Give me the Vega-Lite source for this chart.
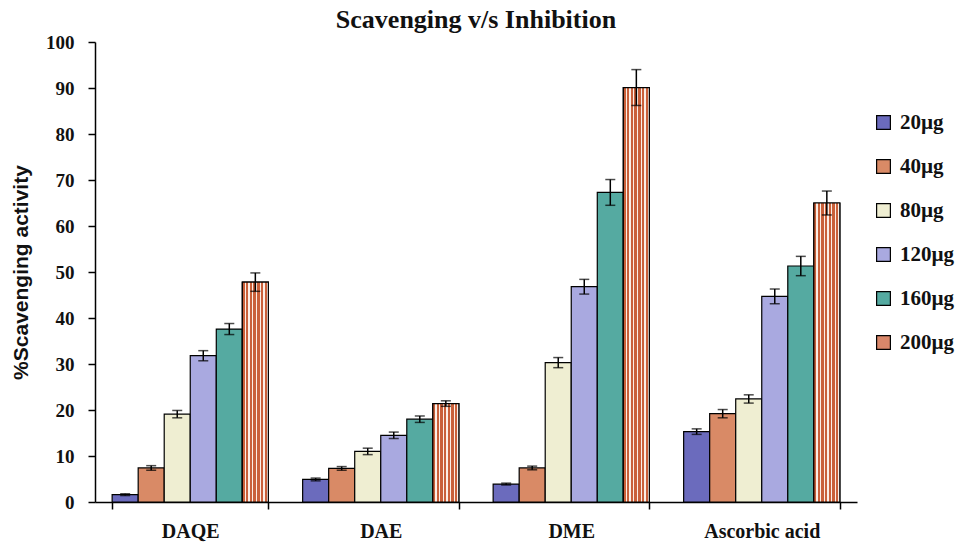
{
  "$schema": "https://vega.github.io/schema/vega-lite/v6.json",
  "width": 762,
  "height": 460,
  "autosize": "none",
  "padding": {"left": 95, "top": 42, "right": 102, "bottom": 40},
  "background": "white",
  "title": {"text": "Scavenging v/s Inhibition", "font": "Liberation Serif", "fontSize": 26, "fontWeight": "bold", "anchor": "middle", "offset": 0, "color": "#111111"},
  "data": {"values": [
    {"extract": "DAQE", "dose": "20µg", "value": 1.6, "lo": 1.4, "hi": 1.8},
    {"extract": "DAQE", "dose": "40µg", "value": 7.4, "lo": 6.9, "hi": 7.9},
    {"extract": "DAQE", "dose": "80µg", "value": 19.1, "lo": 18.3, "hi": 19.9},
    {"extract": "DAQE", "dose": "120µg", "value": 31.8, "lo": 30.7, "hi": 32.9},
    {"extract": "DAQE", "dose": "160µg", "value": 37.6, "lo": 36.4, "hi": 38.8},
    {"extract": "DAQE", "dose": "200µg", "value": 47.8, "lo": 45.8, "hi": 49.8},
    {"extract": "DAE", "dose": "20µg", "value": 4.9, "lo": 4.6, "hi": 5.2},
    {"extract": "DAE", "dose": "40µg", "value": 7.3, "lo": 6.9, "hi": 7.7},
    {"extract": "DAE", "dose": "80µg", "value": 11.0, "lo": 10.3, "hi": 11.7},
    {"extract": "DAE", "dose": "120µg", "value": 14.5, "lo": 13.8, "hi": 15.2},
    {"extract": "DAE", "dose": "160µg", "value": 18.0, "lo": 17.3, "hi": 18.7},
    {"extract": "DAE", "dose": "200µg", "value": 21.4, "lo": 20.8, "hi": 22.0},
    {"extract": "DME", "dose": "20µg", "value": 3.9, "lo": 3.7, "hi": 4.1},
    {"extract": "DME", "dose": "40µg", "value": 7.4, "lo": 7.0, "hi": 7.8},
    {"extract": "DME", "dose": "80µg", "value": 30.3, "lo": 29.2, "hi": 31.4},
    {"extract": "DME", "dose": "120µg", "value": 46.8, "lo": 45.2, "hi": 48.4},
    {"extract": "DME", "dose": "160µg", "value": 67.3, "lo": 64.5, "hi": 70.1},
    {"extract": "DME", "dose": "200µg", "value": 90.1, "lo": 86.2, "hi": 94.0},
    {"extract": "Ascorbic acid", "dose": "20µg", "value": 15.3, "lo": 14.7, "hi": 15.9},
    {"extract": "Ascorbic acid", "dose": "40µg", "value": 19.2, "lo": 18.3, "hi": 20.1},
    {"extract": "Ascorbic acid", "dose": "80µg", "value": 22.4, "lo": 21.5, "hi": 23.3},
    {"extract": "Ascorbic acid", "dose": "120µg", "value": 44.7, "lo": 43.1, "hi": 46.3},
    {"extract": "Ascorbic acid", "dose": "160µg", "value": 51.3, "lo": 49.2, "hi": 53.4},
    {"extract": "Ascorbic acid", "dose": "200µg", "value": 65.0, "lo": 62.4, "hi": 67.6}
  ]},
  "encoding": {
    "x": {
      "field": "extract", "type": "nominal",
      "sort": ["DAQE", "DAE", "DME", "Ascorbic acid"],
      "scale": {"paddingInner": 0.18, "paddingOuter": 0.09},
      "axis": {
        "title": null, "labelAngle": 0, "labelFont": "Liberation Serif", "labelFontSize": 20, "labelFontWeight": "bold", "labelColor": "#111111",
        "labelPadding": 12, "tickBand": "extent", "ticks": true, "tickSize": 7, "tickColor": "#000000", "tickWidth": 1.5,
        "domainColor": "#000000", "domainWidth": 1.5, "grid": false
      }
    },
    "xOffset": {"field": "dose", "type": "nominal", "sort": ["20µg", "40µg", "80µg", "120µg", "160µg", "200µg"], "scale": {"domain": ["20µg", "40µg", "80µg", "120µg", "160µg", "200µg"]}}
  },
  "layer": [
    {
      "mark": {"type": "bar", "stroke": "#000000", "strokeWidth": 1.2},
      "encoding": {
        "y": {
          "field": "value", "type": "quantitative",
          "scale": {"domain": [0, 100], "nice": false},
          "axis": {
            "title": "%Scavenging activity", "titleFont": "Liberation Sans", "titleFontSize": 21, "titleFontWeight": "bold", "titleColor": "#111111", "titlePadding": 14,
            "values": [0, 10, 20, 30, 40, 50, 60, 70, 80, 90, 100],
            "labelFont": "Liberation Serif", "labelFontSize": 19, "labelFontWeight": "bold", "labelColor": "#111111", "labelPadding": 14,
            "tickSize": 7, "tickColor": "#000000", "tickWidth": 1.5, "domainColor": "#000000", "domainWidth": 1.5, "grid": false
          }
        },
        "color": {
          "field": "dose", "type": "nominal",
          "sort": ["20µg", "40µg", "80µg", "120µg", "160µg", "200µg"],
          "scale": {"domain": ["20µg", "40µg", "80µg", "120µg", "160µg", "200µg"], "range": ["#6b6bbd", "#d98a66", "#efeed2", "#a9a9e0", "#55aaa1", "#d9876a"]},
          "legend": {
            "title": null, "orient": "none", "legendX": 778, "legendY": 70,
            "symbolType": "square", "symbolSize": 190, "symbolStrokeColor": "#000000", "symbolStrokeWidth": 1.2,
            "labelFont": "Liberation Serif", "labelFontSize": 21, "labelFontWeight": "bold", "labelColor": "#111111", "labelOffset": 6,
            "rowPadding": 22
          }
        }
      }
    },
    {
      "transform": [{"filter": "datum.dose === '200µg'"}],
      "mark": {
        "type": "bar", "stroke": "#000000", "strokeWidth": 1.2,
        "fill": {"gradient": "linear", "x1": 0, "y1": 0, "x2": 1, "y2": 0, "stops": [
          {"offset": 0, "color": "#c9603a"}, {"offset": 0.0886, "color": "#c9603a"}, {"offset": 0.0886, "color": "#fbeee6"}, {"offset": 0.1429, "color": "#fbeee6"},
          {"offset": 0.1429, "color": "#c9603a"}, {"offset": 0.2314, "color": "#c9603a"}, {"offset": 0.2314, "color": "#fbeee6"}, {"offset": 0.2857, "color": "#fbeee6"},
          {"offset": 0.2857, "color": "#c9603a"}, {"offset": 0.3743, "color": "#c9603a"}, {"offset": 0.3743, "color": "#fbeee6"}, {"offset": 0.4286, "color": "#fbeee6"},
          {"offset": 0.4286, "color": "#c9603a"}, {"offset": 0.5171, "color": "#c9603a"}, {"offset": 0.5171, "color": "#fbeee6"}, {"offset": 0.5714, "color": "#fbeee6"},
          {"offset": 0.5714, "color": "#c9603a"}, {"offset": 0.66, "color": "#c9603a"}, {"offset": 0.66, "color": "#fbeee6"}, {"offset": 0.7143, "color": "#fbeee6"},
          {"offset": 0.7143, "color": "#c9603a"}, {"offset": 0.8029, "color": "#c9603a"}, {"offset": 0.8029, "color": "#fbeee6"}, {"offset": 0.8571, "color": "#fbeee6"},
          {"offset": 0.8571, "color": "#c9603a"}, {"offset": 0.9457, "color": "#c9603a"}, {"offset": 0.9457, "color": "#fbeee6"}, {"offset": 1, "color": "#fbeee6"}
        ]}
      },
      "encoding": {"y": {"field": "value", "type": "quantitative"}}
    },
    {
      "mark": {"type": "rule", "color": "#000000", "strokeWidth": 1.5},
      "encoding": {"y": {"field": "lo", "type": "quantitative"}, "y2": {"field": "hi"}}
    },
    {
      "mark": {"type": "tick", "color": "#000000", "thickness": 1.5, "size": 10},
      "encoding": {"y": {"field": "lo", "type": "quantitative"}}
    },
    {
      "mark": {"type": "tick", "color": "#000000", "thickness": 1.5, "size": 10},
      "encoding": {"y": {"field": "hi", "type": "quantitative"}}
    }
  ],
  "config": {"view": {"stroke": null}}
}
